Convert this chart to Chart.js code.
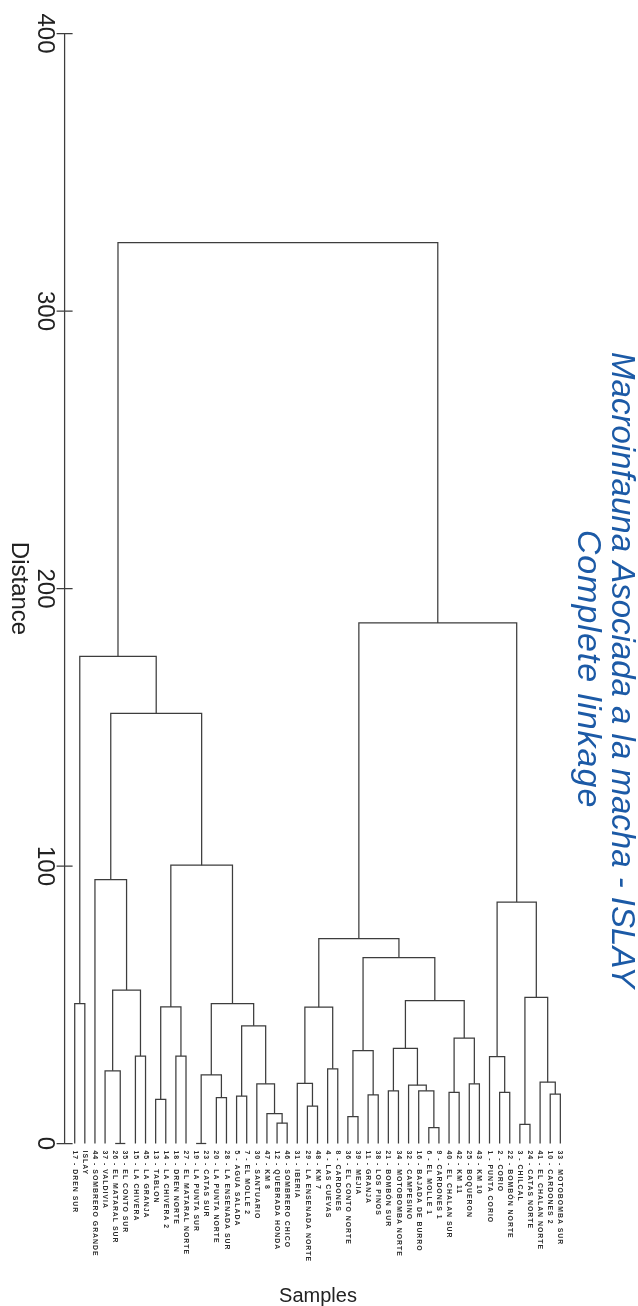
<!DOCTYPE html>
<html>
<head>
<meta charset="utf-8">
<script src="https://cdn.jsdelivr.net/npm/chart.js@4/dist/chart.umd.min.js"></script>
<style>
  html, body { margin: 0; padding: 0; background: #ffffff; }
  canvas { display: block; }
</style>
</head>
<body>
<canvas id="dendro" width="638" height="1306"></canvas>
<script>
// Leaves in dendrogram order (left to right)
const sampleLabels = [
  "17 - DREN SUR", "ISLAY", "44 - SOMBRERO GRANDE", "37 - VALDIVIA",
  "26 - EL MATARAL SUR", "35 - EL CONTO SUR", "15 - LA CHIVERA", "45 - LA GRANJA",
  "13 - TABLON", "14 - LA CHIVERA 2", "18 - DREN NORTE", "27 - EL MATARAL NORTE",
  "19 - LA PUNTA SUR", "23 - CATAS SUR", "20 - LA PUNTA NORTE", "28 - LA ENSENADA SUR",
  "5 - AGUA SALADA", "7 - EL MOLLE 2", "30 - SANTUARIO", "47 - KM 8",
  "12 - QUEBRADA HONDA", "46 - SOMBRERO CHICO", "31 - IBERIA", "29 - LA ENSENADA NORTE",
  "48 - KM 7", "4 - LAS CUEVAS", "8 - CARDONES", "36 - EL CONTO NORTE",
  "39 - MEJIA", "11 - GRANJA", "38 - LOS PINOS", "21 - BOMBÓN SUR",
  "34 - MOTOBOMBA NORTE", "32 - CAMPESINO", "16 - BAJADA DE BURRO", "6 - EL MOLLE 1",
  "9 - CARDONES 1", "40 - EL CHALAN SUR", "42 - KM 11", "25 - BOQUERON",
  "43 - KM 10", "1 - PUNTA CORIO", "2 - CORIO", "22 - BOMBÓN NORTE",
  "3 - CHILCAL", "24 - CATAS NORTE", "41 - EL CHALAN NORTE", "10 - CARDONES 2",
  "33 - MOTOBOMBA SUR"
];

// Complete-linkage merges: ids 0..48 are leaves, merge k gets id 49 + k
const mergeLeft = [
  4, 3, 6, 50, 2, 0, 8, 10, 55, 12, 14, 58, 16, 20, 19, 18, 61, 60, 57, 53, 54,
  23, 22, 25, 71, 27, 29, 74, 31, 35, 34, 33, 77, 37, 39, 82, 81, 76, 73,
  42, 41, 44, 47, 46, 90, 89, 87, 69
];
const mergeRight = [
  5, 49, 7, 51, 52, 1, 9, 11, 56, 13, 15, 59, 17, 21, 62, 63, 64, 65, 66, 67, 68,
  24, 70, 26, 72, 28, 30, 75, 32, 36, 78, 79, 80, 38, 40, 83, 84, 85, 86,
  43, 88, 45, 48, 91, 92, 93, 94, 95
];
const mergeHeight = [
  0, 26.2, 31.5, 55.3, 95.1, 50.4, 15.9, 31.5, 49.2, 0, 16.5, 24.7, 17.1, 7.3, 10.8,
  21.5, 42.4, 50.4, 100.3, 155.0, 175.5,
  13.5, 21.7, 26.9, 49.1, 9.7, 17.5, 33.5, 19.0, 5.7, 19.0, 21.0, 34.3, 18.4, 21.5,
  38.0, 51.5, 67.0, 73.8, 18.4, 31.3, 6.9, 17.8, 22.1, 52.7, 87.0, 187.6, 324.6
];

// Distance axis ticks
const distanceTicks = [0, 100, 200, 300, 400];

const titleText = "Macroinfauna Asociada a la macha - ISLAY";
const subtitleText = "Complete linkage";
const distanceTitle = "Distance";
const samplesTitle = "Samples";

// Position (leaf-order units) and height of every node
const nLeaves = sampleLabels.length;
const nodePos = sampleLabels.map((_, i) => i);
const nodeHeight = sampleLabels.map(() => 0);
mergeLeft.forEach((l, k) => {
  nodePos.push((nodePos[l] + nodePos[mergeRight[k]]) / 2);
  nodeHeight.push(mergeHeight[k]);
});

// One bracket-shaped line per merge
const LINE_COLOR = '#3d3d3d';
const datasets = mergeLeft.map((l, k) => {
  const r = mergeRight[k];
  const h = mergeHeight[k];
  return {
    data: [
      { x: nodePos[l], y: nodeHeight[l] },
      { x: nodePos[l], y: h },
      { x: nodePos[r], y: h },
      { x: nodePos[r], y: nodeHeight[r] }
    ],
    borderColor: LINE_COLOR,
    borderWidth: 1.25,
    pointRadius: 0,
    tension: 0,
    fill: false,
    clip: false
  };
});

const FONT = '"Liberation Sans", Arial, Helvetica, sans-serif';

// Axis, tick labels, leaf names and titles
const annotations = {
  id: 'annotations',
  afterDraw(chart) {
    const ctx = chart.ctx;
    const xs = chart.scales.x;
    const ys = chart.scales.y;
    const area = chart.chartArea;
    const ax = area.left;
    const canSpace = 'letterSpacing' in ctx;

    ctx.save();
    ctx.strokeStyle = LINE_COLOR;
    ctx.lineWidth = 1.25;
    ctx.beginPath();
    ctx.moveTo(ax, ys.getPixelForValue(distanceTicks[distanceTicks.length - 1]));
    ctx.lineTo(ax, ys.getPixelForValue(distanceTicks[0]));
    distanceTicks.forEach(v => {
      const py = ys.getPixelForValue(v);
      ctx.moveTo(ax - 8, py);
      ctx.lineTo(ax + 8, py);
    });
    ctx.stroke();

    // tick labels, turned to read downward
    ctx.fillStyle = '#222222';
    ctx.font = '24px ' + FONT;
    ctx.textAlign = 'center';
    ctx.textBaseline = 'middle';
    distanceTicks.forEach(v => {
      ctx.save();
      ctx.translate(ax - 20, ys.getPixelForValue(v));
      ctx.rotate(Math.PI / 2);
      ctx.fillText(String(v), 0, 0);
      ctx.restore();
    });

    // axis title
    ctx.save();
    ctx.font = '24px ' + FONT;
    ctx.translate(19, (area.top + area.bottom) / 2);
    ctx.rotate(Math.PI / 2);
    ctx.fillText(distanceTitle, 0, 0);
    ctx.restore();

    // leaf names
    ctx.fillStyle = '#2e2e2e';
    ctx.font = 'bold 6.9px ' + FONT;
    ctx.textAlign = 'left';
    ctx.textBaseline = 'middle';
    if (canSpace) ctx.letterSpacing = '1px';
    sampleLabels.forEach((name, i) => {
      ctx.save();
      ctx.translate(xs.getPixelForValue(i), area.bottom + 7);
      ctx.rotate(Math.PI / 2);
      ctx.fillText(name, 0, 0);
      ctx.restore();
    });
    if (canSpace) ctx.letterSpacing = '0px';

    // samples title
    ctx.fillStyle = '#222222';
    ctx.font = '20px ' + FONT;
    ctx.textAlign = 'center';
    ctx.fillText(samplesTitle, 318, 1296);

    // chart title and subtitle
    ctx.fillStyle = '#1c5aa6';
    ctx.save();
    ctx.font = 'italic 33px ' + FONT;
    ctx.translate(621, 670);
    ctx.rotate(Math.PI / 2);
    ctx.fillText(titleText, 0, 0);
    ctx.restore();
    ctx.save();
    ctx.font = 'italic 34px ' + FONT;
    if (canSpace) ctx.letterSpacing = '1px';
    ctx.translate(587, 669);
    ctx.rotate(Math.PI / 2);
    ctx.fillText(subtitleText, 0, 0);
    if (canSpace) ctx.letterSpacing = '0px';
    ctx.restore();

    ctx.restore();
  }
};

new Chart(document.getElementById('dendro'), {
  type: 'line',
  data: { datasets },
  options: {
    responsive: false,
    animation: false,
    events: [],
    layout: { padding: { left: 64.6, right: 67.55, top: 33.5, bottom: 162.5 } },
    plugins: { legend: { display: false }, tooltip: { enabled: false } },
    scales: {
      x: { type: 'linear', min: -1, max: nLeaves, display: false },
      y: { type: 'linear', min: 0, max: 400, display: false }
    }
  },
  plugins: [annotations]
});
</script>
</body>
</html>
